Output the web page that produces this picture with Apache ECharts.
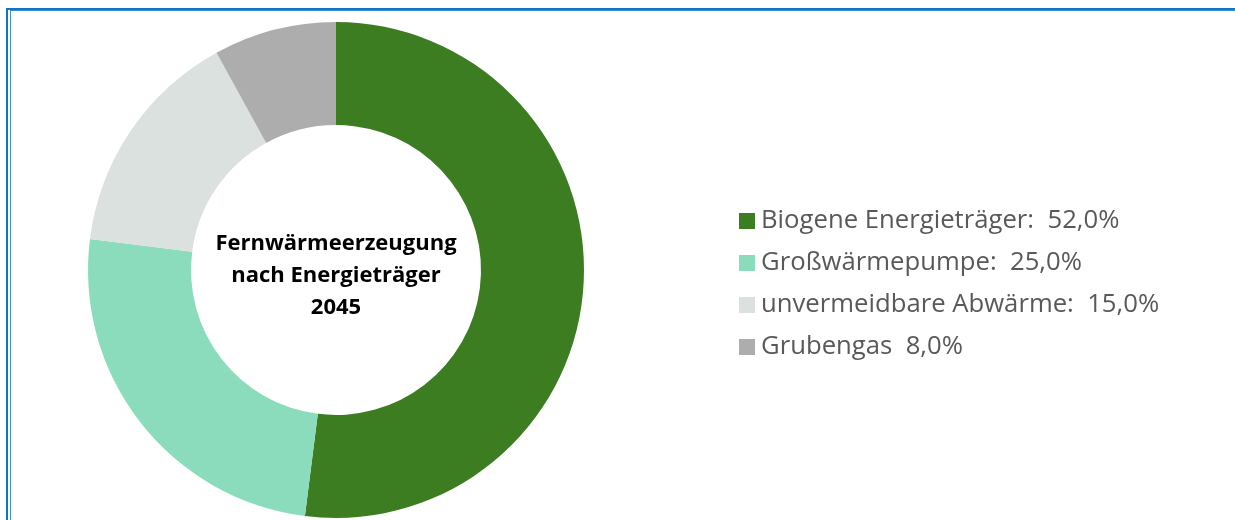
<!DOCTYPE html>
<html>
<head>
<meta charset="utf-8">
<script src="https://cdn.jsdelivr.net/npm/echarts@6/dist/echarts.min.js"></script>
<style>
  html, body { margin: 0; padding: 0; background: #ffffff; }
  #wrap { position: relative; width: 1235px; height: 520px; overflow: hidden; }
  #chart { position: absolute; left: 0; top: 0; width: 1235px; height: 520px; }
  /* double frame line along the top and left edges */
  .frame-outer { position: absolute; left: 6px; top: 8px; right: 0; bottom: -10px;
                 border-left: 2px solid #1572c6; border-top: 2px solid #1572c6; }
  .frame-inner { position: absolute; left: 10px; top: 10px; right: 0; bottom: -10px;
                 border-left: 1px solid #3b8fd6; border-top: 1px solid #3b8fd6; }
</style>
</head>
<body>
<div id="wrap">
  <div id="chart"></div>
  <div class="frame-outer"></div>
  <div class="frame-inner"></div>
</div>
<script>
// Fernwärmeerzeugung nach Energieträger 2045 (Anteile in %)
const categories = ['Biogene Energieträger', 'Großwärmepumpe', 'unvermeidbare Abwärme', 'Grubengas'];
const values = [52.0, 25.0, 15.0, 8.0];
const separators = [':', ':', ':', ''];
const colors = ['#3d7d22', '#8bdcbd', '#dbe1de', '#adadad'];
const centerTitle = ['Fernwärmeerzeugung', 'nach Energieträger', '2045'];

const fmt = v => v.toFixed(1).replace('.', ',') + '%';

const chart = echarts.init(document.getElementById('chart'), null, { renderer: 'canvas' });

chart.setOption({
  animation: false,
  color: colors,
  legend: {
    orient: 'vertical',
    left: 739,
    top: 208,
    padding: 0,
    icon: 'rect',
    itemWidth: 16,
    itemHeight: 16,
    itemGap: 16,
    data: categories,
    textStyle: {
      fontFamily: 'Open Sans',
      fontSize: 25.7,
      lineHeight: 25.5,
      color: '#595959',
      padding: [0, 0, 0, 1]
    },
    formatter: name => {
      const i = categories.indexOf(name);
      return name + separators[i] + '  ' + fmt(values[i]);
    }
  },
  series: [{
    type: 'pie',
    center: [336, 270],
    radius: [145, 248],
    startAngle: 90,
    clockwise: true,
    avoidLabelOverlap: false,
    label: { show: false },
    labelLine: { show: false },
    emphasis: { disabled: true },
    itemStyle: { borderWidth: 0 },
    data: categories.map((c, i) => ({ name: c, value: values[i] }))
  }],
  graphic: [{
    type: 'text',
    x: 336,
    y: 276,
    style: {
      text: centerTitle.join('\n'),
      textAlign: 'center',
      textVerticalAlign: 'middle',
      fontFamily: 'Open Sans',
      fontWeight: 'bold',
      fontSize: 22,
      lineHeight: 32,
      fill: '#000000'
    }
  }]
});
</script>
</body>
</html>
